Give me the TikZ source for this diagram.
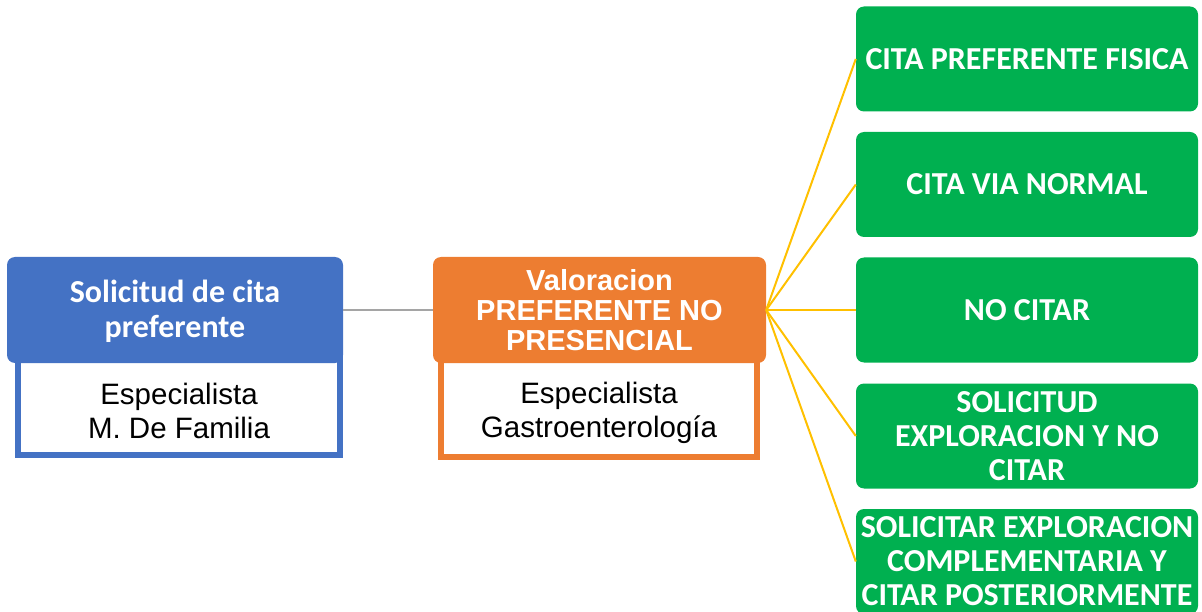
\documentclass[tikz,border=0pt]{standalone}
\usepackage{fontspec}
\setmainfont{Liberation Sans}
\newfontfamily\calibri{Carlito}
\usetikzlibrary{positioning}
\definecolor{hdrblue}{HTML}{4472C4}
\definecolor{hdrorange}{HTML}{ED7D31}
\definecolor{optgreen}{HTML}{00B050}
\definecolor{linkgold}{HTML}{FFC000}
\definecolor{linkgray}{HTML}{A5A5A5}
\tikzset{
  header/.style={rounded corners=8pt, inner sep=0pt, minimum height=106pt, align=center, text=white},
  rolebox/.style={draw, line width=6pt, fill=white, inner sep=0pt, minimum height=98pt},
  roletext/.style={inner sep=0pt, align=center, font=\fontsize{29.5}{34}\selectfont},
  option/.style={fill=optgreen, rounded corners=8pt, inner sep=0pt, minimum width=342pt, minimum height=105pt, align=center, text=white, font=\calibri\bfseries\fontsize{32}{34}\selectfont},
  link/.style={line width=2pt, linkgold},
}

\begin{document}
\begin{tikzpicture}[x=1pt, y=-1pt]
  \useasboundingbox (0,0) rectangle (1202,612);

  % left: request
  \node[rolebox, draw=hdrblue, minimum width=322pt] (famrole) at (179,406) {};
  \node[roletext] (famtext) at (179,410.5) {Especialista\\M. De Familia};
  \node[header, fill=hdrblue, minimum width=336pt, font=\calibri\bfseries\fontsize{32}{35}\selectfont] (request) at (175,310) {\strut Solicitud de cita\\preferente};

  % middle: assessment
  \node[rolebox, draw=hdrorange, minimum width=316pt] (gastrorole) at (599,408) {};
  \node[roletext] (gastrotext) at (599,413) {Especialista\\Gastroenterología};
  \node[header, fill=hdrorange, minimum width=333pt, font=\bfseries\fontsize{29}{30}\selectfont] (assess) at (599.5,310) {Valoracion\\PREFERENTE NO\\PRESENCIAL};

  % right: outcomes
  \node[option] (physical) at (1027,59) {CITA PREFERENTE FISICA};
  \node[option] (normal) at (1027,184.5) {CITA VIA NORMAL};
  \node[option] (nocita) at (1027,310) {NO CITAR};
  \node[option] (explore) at (1027,436) {SOLICITUD\\EXPLORACION Y NO\\CITAR};
  \node[option] (later) at (1027,561.5) {SOLICITAR EXPLORACION\\COMPLEMENTARIA Y\\CITAR POSTERIORMENTE};

  \draw[line width=2.5pt, linkgray] (request) -- (assess);
  \foreach \target in {physical, normal, nocita, explore, later}
    \draw[link] (assess.east) -- (\target.west);
\end{tikzpicture}
\end{document}
